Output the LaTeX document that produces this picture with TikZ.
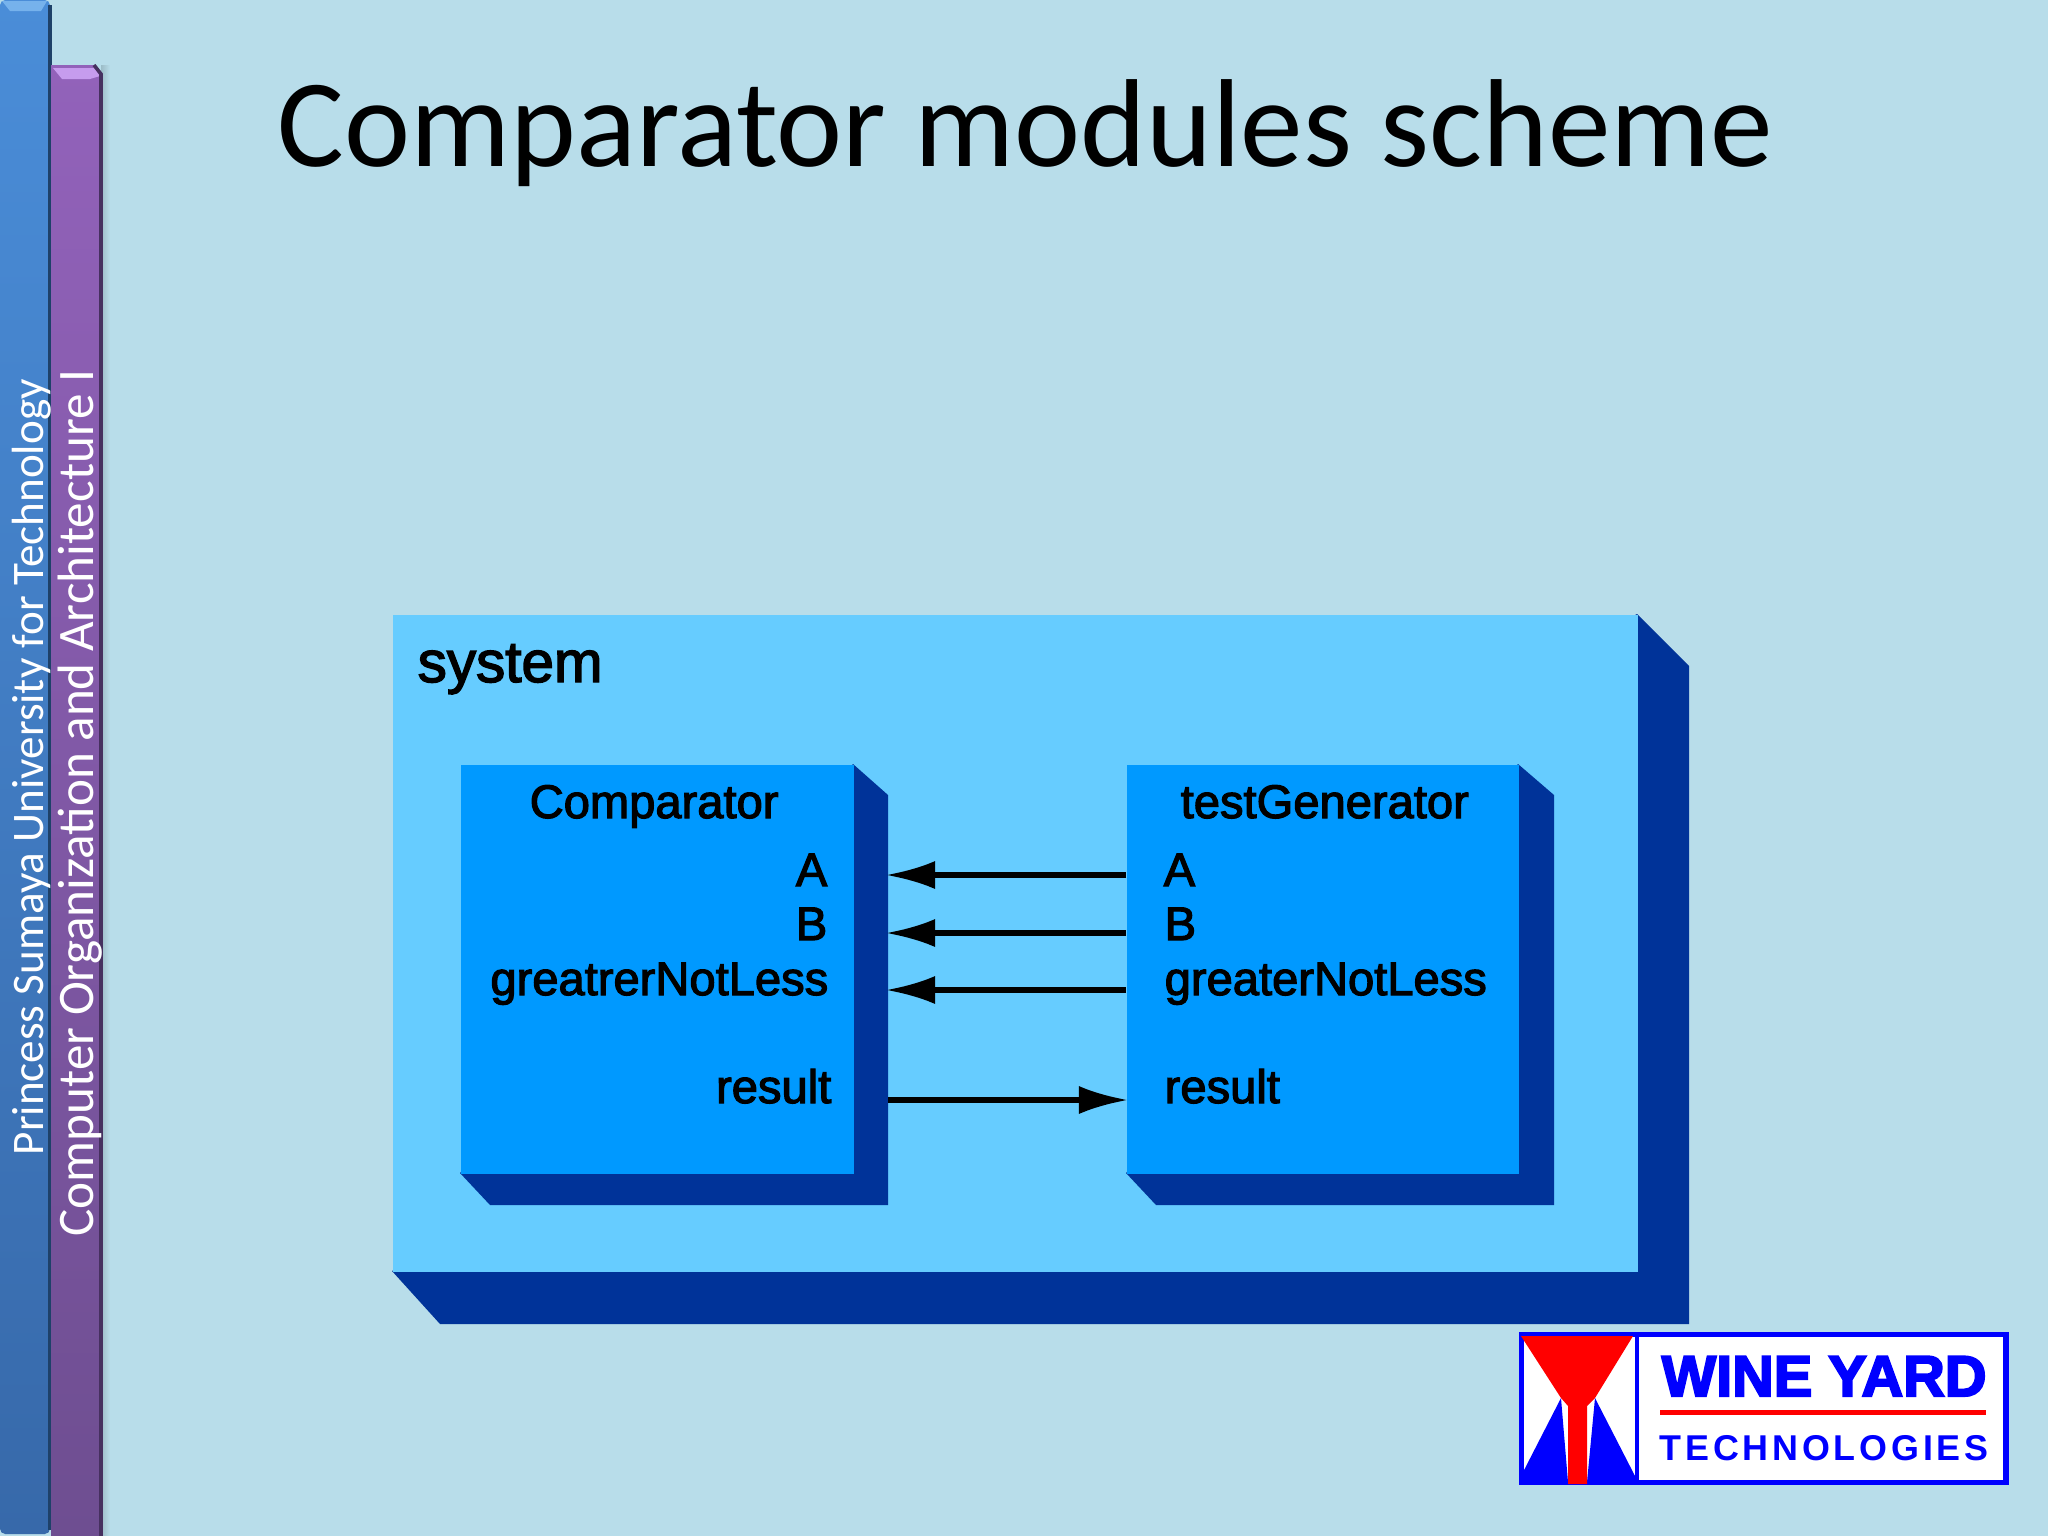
\documentclass[tikz,border=0pt]{standalone}
\usepackage{fontspec}
\setmainfont{Carlito}
\newfontfamily\pixfont[FakeBold=2.5]{Liberation Sans}
\newfontfamily\logofont[FakeBold=3.5]{Liberation Sans Bold}
\newfontfamily\logospaced[LetterSpace=10.6]{Liberation Sans Bold}
\usetikzlibrary{arrows.meta}
\definecolor{slidebg}{HTML}{B8DDEA}
\definecolor{sysface}{HTML}{66CCFF}
\definecolor{modface}{HTML}{0099FF}
\definecolor{modside}{HTML}{003399}
\definecolor{logoblue}{HTML}{0000FF}
\definecolor{logored}{HTML}{FF0000}
\definecolor{bartop}{HTML}{4A8DD8}
\definecolor{barlow}{HTML}{3769AA}
\definecolor{barhigh}{HTML}{76B2EC}
\definecolor{baredge}{HTML}{1E4169}
\definecolor{vartop}{HTML}{9262BA}
\definecolor{varlow}{HTML}{6E4E91}
\definecolor{varhigh}{HTML}{C69CEE}
\definecolor{varedge}{HTML}{46305F}
\begin{document}
\begin{tikzpicture}[x=0.01cm,y=-0.01cm,
  portlabel/.style={inner sep=0,font=\pixfont\fontsize{13.4}{16}\selectfont},
  signal/.style={line width=1.5pt,shorten >=-0.6pt,-{Latex[length=14pt,width=8pt]}},
  modbox/.style={fill=modface,draw=none,inner sep=0,anchor=north west},
  sidetext/.style={rotate=90,anchor=base west,inner sep=0,text=white}]
\useasboundingbox (0,0) rectangle (2048,1536);
\fill[slidebg] (0,0) rectangle (2048,1536);
\shade[left color=black!15!slidebg,right color=slidebg] (101,65) rectangle (110,1536);
\shade[top color=bartop,bottom color=barlow,rounded corners=1.5pt] (0,0) rectangle (50,1534);
\fill[barhigh] (2,1) -- (47,1) -- (41,11) -- (10,11) -- cycle;
\draw[baredge,line width=1pt] (50,5) -- (50,1530);
\shade[top color=vartop,bottom color=varlow] (51,65) -- (94,65) -- (101,74) -- (101,1536) -- (51,1536) -- cycle;
\fill[varhigh] (53,68) -- (94,68) -- (100,76) -- (90,79) -- (62,79) -- cycle;
\draw[varedge,line width=1pt] (94,65) -- (101,74) -- (101,1536);
\node[sidetext,font=\fontsize{12.83}{15}\selectfont] (university) at (43,1156) {Princess Sumaya University for Technology};
\node[sidetext,font=\fontsize{14.55}{17}\selectfont] (course) at (93,1237) {Computer Organization and Architecture I};
\node[anchor=base west,inner sep=0,font=\fontsize{35.6}{42}\selectfont] (title) at (277,166) {Comparator modules scheme};
\fill[modside] (1637,614) -- (1689,666) -- (1689,1324) -- (440,1324) -- (392,1271) -- cycle;
\node[fill=sysface,inner sep=0,anchor=north west,minimum width=12.45cm,minimum height=6.57cm] (system) at (392,614) {};
\node[portlabel,anchor=base west,font=\pixfont\fontsize{16.6}{20}\selectfont] (systemname) at (417,682) {system};
\fill[modside] (853,764) -- (888,795) -- (888,1205) -- (490,1205) -- (460,1173) -- cycle;
\node[modbox,minimum width=3.93cm,minimum height=4.09cm] (comparator) at (460,764) {};
\fill[modside] (1518,764) -- (1554,795) -- (1554,1205) -- (1156,1205) -- (1126,1173) -- cycle;
\node[modbox,minimum width=3.92cm,minimum height=4.09cm] (testgen) at (1126,764) {};
\node[portlabel,anchor=base west] (cmpname) at (529,818) {Comparator};
\node[portlabel,anchor=base east] (cmpa) at (828,886) {A};
\node[portlabel,anchor=base east] (cmpb) at (828,940) {B};
\node[portlabel,anchor=base east] (cmpg) at (829,995) {greatrerNotLess};
\node[portlabel,anchor=base east] (cmpr) at (832,1103) {result};
\node[portlabel,anchor=base west] (genname) at (1180,818) {testGenerator};
\node[portlabel,anchor=base west] (gena) at (1163,886) {A};
\node[portlabel,anchor=base west] (genb) at (1164,940) {B};
\node[portlabel,anchor=base west] (geng) at (1164,995) {greaterNotLess};
\node[portlabel,anchor=base west] (genr) at (1164,1103) {result};
\coordinate (ina) at (888,875);
\coordinate (inb) at (888,933);
\coordinate (ing) at (888,990);
\coordinate (outr) at (888,1100);
\draw[signal] (testgen.west |- ina) -- (ina);
\draw[signal] (testgen.west |- inb) -- (inb);
\draw[signal] (testgen.west |- ing) -- (ing);
\draw[signal] (outr) -- (testgen.west |- outr);
\node[draw=logoblue,fill=white,line width=1.5pt,inner sep=0,anchor=north west,minimum width=4.84cm,minimum height=1.48cm] (logo) at (1519,1332) {};
\fill[logoblue] (1561,1398) -- (1521,1476) -- (1521,1482) -- (1568,1482) -- cycle;
\fill[logoblue] (1595,1398) -- (1635,1476) -- (1635,1482) -- (1587,1482) -- cycle;
\draw[logoblue,line width=1.2pt] (logo.north -| 1637,0) -- (logo.south -| 1637,0);
\fill[logored] (1521,1336) -- (1633,1336) -- (1595,1398) -- (1587,1406) -- (1587,1484) -- (1568,1484) -- (1568,1406) -- (1561,1398) -- cycle;
\node[anchor=base west,inner sep=0,text=logoblue,font=\logofont\fontsize{16.4}{19}\selectfont] (wine) at (1661,1396) {WINE YARD};
\fill[logored] (1660,1410) rectangle (1986,1415);
\node[anchor=base west,inner sep=0,text=logoblue,font=\logospaced\fontsize{10.2}{12}\selectfont] (tech) at (1659,1460) {TECHNOLOGIES};
\end{tikzpicture}
\end{document}
